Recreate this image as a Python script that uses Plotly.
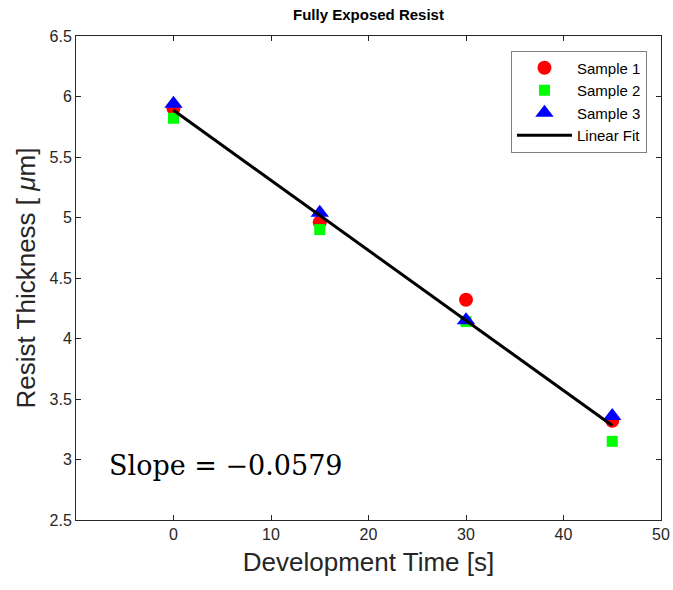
import numpy as np
import plotly.graph_objects as go

# Development times [s] and measured resist thickness [um]
dev_time = [0, 15, 30, 45]
sample1 = [5.90, 4.96, 4.32, 3.32]
sample2 = [5.82, 4.90, 4.14, 3.15]
sample3 = [5.94, 5.04, 4.15, 3.36]
fit_slope = -0.0579

x_ticks = [0, 10, 20, 30, 40, 50]
y_ticks = [2.5, 3, 3.5, 4, 4.5, 5, 5.5, 6, 6.5]

# Linear fit through the pooled samples with the reported slope
all_x = np.array(dev_time * 3, dtype=float)
all_y = np.array(sample1 + sample2 + sample3)
fit_intercept = all_y.mean() - fit_slope * all_x.mean()
fit_x = np.array([dev_time[0], dev_time[-1]], dtype=float)
fit_y = fit_intercept + fit_slope * fit_x

axis_color = "#262626"

fig = go.Figure()
fig.add_trace(go.Scatter(
    x=dev_time, y=sample1, mode="markers", name="Sample 1",
    marker=dict(symbol="circle", size=14, color="#FF0000"),
))
fig.add_trace(go.Scatter(
    x=dev_time, y=sample2, mode="markers", name="Sample 2",
    marker=dict(symbol="square", size=11, color="#00FF00"),
))
fig.add_trace(go.Scatter(
    x=dev_time, y=sample3, mode="markers", name="Sample 3",
    marker=dict(symbol="triangle-up", size=16, color="#0000FF"),
))
fig.add_trace(go.Scatter(
    x=fit_x, y=fit_y, mode="lines", name="Linear Fit",
    line=dict(color="black", width=3),
))

fig.add_annotation(
    x=-6.8, y=2.95, xref="x", yref="y", xanchor="left", yanchor="middle",
    text="Slope = \u22120.0579", showarrow=False,
    font=dict(family="DejaVu Serif", size=27, color="black"),
)

axis_common = dict(
    showline=True, linecolor=axis_color, linewidth=1, mirror="ticks",
    ticks="inside", ticklen=5, tickcolor=axis_color, showgrid=False,
    zeroline=False, automargin=False,
    tickfont=dict(family="Liberation Sans", size=16, color=axis_color),
)

fig.update_layout(
    width=673, height=590,
    paper_bgcolor="white", plot_bgcolor="white",
    margin=dict(l=76, r=12, t=36, b=70),
    title=dict(
        text="<b>Fully Exposed Resist</b>", x=0.5, xanchor="center",
        xref="paper", y=0.975, yanchor="middle",
        font=dict(family="Liberation Sans", size=15, color="black"),
    ),
    xaxis=dict(
        range=[-10, 50], tickvals=x_ticks,
        title=dict(text="Development Time [s]", standoff=10,
                   font=dict(family="Liberation Sans", size=26, color=axis_color)),
        **axis_common,
    ),
    yaxis=dict(
        range=[2.5, 6.5], tickvals=y_ticks, ticktext=[f"{v:g}" for v in y_ticks],
        title=dict(text="Resist Thickness [ <i>\u03bc</i>m]", standoff=6,
                   font=dict(family="Liberation Sans", size=26, color=axis_color)),
        **axis_common,
    ),
    legend=dict(
        x=0.976, y=0.97, xanchor="right", yanchor="top",
        bgcolor="white", bordercolor="#808080", borderwidth=1,
        font=dict(family="Liberation Sans", size=15, color="black"),
        tracegroupgap=0, itemwidth=55,
    ),
    showlegend=True,
)

fig.write_html("out.html")
